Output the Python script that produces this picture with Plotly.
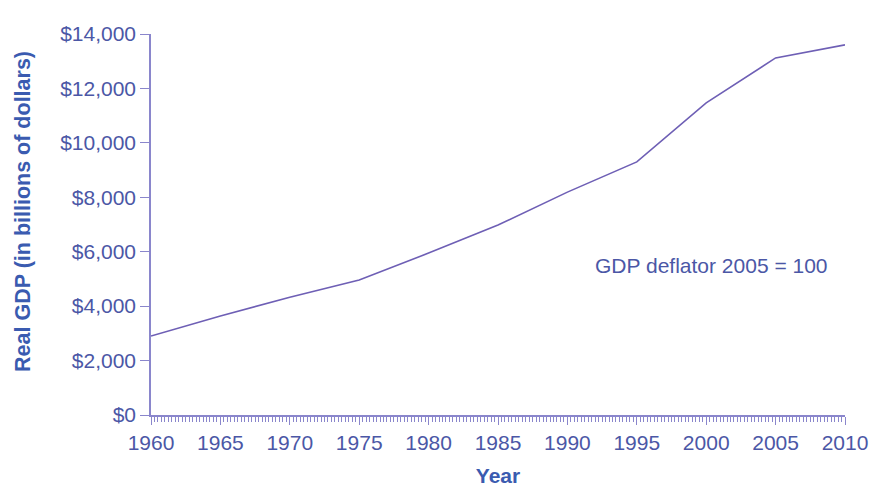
import plotly.graph_objects as go

years = [1960, 1965, 1970, 1975, 1980, 1985, 1990, 1995, 2000, 2005, 2010]
real_gdp = [2900, 3640, 4330, 4960, 5950, 6980, 8190, 9300, 11470, 13120, 13600]
y_ticks = [0, 2000, 4000, 6000, 8000, 10000, 12000, 14000]
y_labels = ["$0", "$2,000", "$4,000", "$6,000", "$8,000", "$10,000", "$12,000", "$14,000"]
x_ticks = [1960, 1965, 1970, 1975, 1980, 1985, 1990, 1995, 2000, 2005, 2010]

tick_col = "#4b57a6"
title_col = "#3a5bb0"
axis_col = "#8a86cc"
font = "Liberation Sans, Arial, sans-serif"

fig = go.Figure()
fig.add_trace(go.Scatter(x=years, y=real_gdp, mode="lines",
                         line=dict(color="#6e5fb5", width=1.6),
                         showlegend=False, hoverinfo="skip"))

fig.add_annotation(x=2000.4, y=5480, text="GDP deflator 2005 = 100", showarrow=False,
                   font=dict(size=21, color=tick_col, family=font))

# y title as a rotated annotation so it sits a bit above centre like the original
fig.add_annotation(x=0, y=0.533, xref="paper", yref="paper", xshift=-142,
                   text="<b>Real GDP (in billions of dollars)</b>", textangle=-90,
                   showarrow=False, font=dict(size=21.5, color=title_col, family=font))

fig.update_layout(
    width=869, height=487,
    margin=dict(l=151, r=24, t=34, b=72),
    paper_bgcolor="white", plot_bgcolor="white",
    font=dict(family=font, size=21, color=tick_col),
    xaxis=dict(
        range=[1960, 2010], tickvals=x_ticks, showgrid=False, zeroline=False,
        showline=True, linecolor=axis_col, linewidth=1.5, automargin=False,
        ticks="outside", ticklen=8, tickcolor=axis_col, tickwidth=1.2,
        tickfont=dict(size=21, color=tick_col),
        minor=dict(dtick=0.25, tick0=1960, ticks="outside", ticklen=5,
                   tickcolor=axis_col, tickwidth=1, showgrid=False),
        title=dict(text="<b>Year</b>", font=dict(size=21, color=title_col), standoff=18),
    ),
    yaxis=dict(
        range=[0, 14000], tickvals=y_ticks, ticktext=y_labels, showgrid=False, zeroline=False,
        showline=True, linecolor=axis_col, linewidth=1.5, automargin=False,
        ticks="outside", ticklen=9, tickcolor=axis_col, tickwidth=1.2,
        tickfont=dict(size=21, color=tick_col),
    ),
)

# drop the default body margin so the figure fills the window exactly
fig.write_html("out.html", config={"displayModeBar": False},
               post_script="document.body.style.margin='0';")
